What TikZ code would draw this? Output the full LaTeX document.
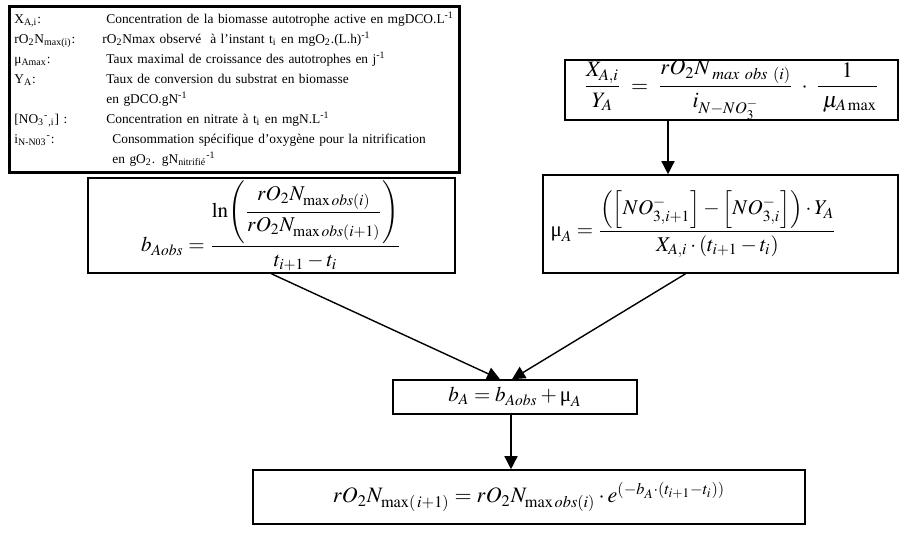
\documentclass[tikz,border=0pt]{standalone}
\usepackage{amsmath}
\usepackage{mathptmx}
\usepackage{fontspec}
\setmainfont{Liberation Serif}
\usetikzlibrary{arrows.meta,positioning}
\begin{document}
\begin{tikzpicture}[x=0.5pt,y=-0.5pt,
  box/.style={draw,line width=0.8pt,inner sep=0pt,font=\fontsize{10.5}{12}\selectfont},
  flow/.style={draw,line width=0.7pt,-{Triangle[length=6.5pt,width=6.5pt]}}]
\useasboundingbox (0,0) rectangle (904,537);
\node[draw,line width=1.4pt,anchor=north west,inner xsep=2.5pt,inner ysep=1.5pt,
  text width=220pt,font=\fontsize{6.7}{10}\selectfont] (legend) at (8,5) {%
  \begin{tabular}{@{}p{46pt}@{}l@{}}
  X\textsubscript{A,i}: & Concentration de la biomasse autotrophe active en mgDCO.L\textsuperscript{-1}\\
  rO\textsubscript{2}N\textsubscript{max(i)}: & \hspace{-2pt}rO\textsubscript{2}Nmax observé\ \ à l’instant t\textsubscript{i} en mgO\textsubscript{2}.(L.h)\textsuperscript{-1}\\
  μ\textsubscript{Amax}: & Taux maximal de croissance des autotrophes en j\textsuperscript{-1}\\
  Y\textsubscript{A}: & Taux de conversion du substrat en biomasse\\
  & en gDCO.gN\textsuperscript{-1}\\
  {[}NO\textsubscript{3}\textsuperscript{-}\textsubscript{,i}] : & Concentration en nitrate à t\textsubscript{i} en mgN.L\textsuperscript{-1}\\
  i\textsubscript{N-N03}\textsuperscript{-}: & \hspace{3pt}Consommation spécifique d’oxygène pour la nitrification\\
  & \hspace{3pt}en gO\textsubscript{2}. gN\textsubscript{nitrifié}\textsuperscript{-1}
  \end{tabular}};
\node[box,font=\fontsize{11}{13}\selectfont,minimum width=166.5pt,minimum height=28pt] (ratio) at (731.5,90)
  {$\dfrac{X_{A,i}}{Y_A}\;=\;\dfrac{rO_2N_{\;\mathit{max\ obs\ (i)}}}{i_{N-NO_3^-}}\;\cdot\;\dfrac{1}{\;\mu_{A\max}}$};
\node[box,minimum width=183.5pt,minimum height=47.5pt] (bobs) at (271.5,225.5)
  {$b_{Aobs}=\dfrac{\ln\!\left(\dfrac{rO_2N_{\max obs(i)}}{rO_2N_{\max obs(i+1)}}\right)}{t_{i+1}-t_i}$};
\node[box,minimum width=177.5pt,minimum height=49pt,text width=170pt,inner xsep=3.75pt] (muA) at (720.5,224)
  {$\mbox{μ}_A=\dfrac{\Bigl(\Bigl[NO^-_{3,i+1}\Bigr]-\Bigl[NO^-_{3,i}\Bigr]\Bigr)\cdot Y_A}{X_{A,i}\cdot(t_{i+1}-t_i)}$};
\node[box,minimum width=122pt,minimum height=17pt] (bA) at (515,397)
  {$b_A=b_{Aobs}+\mbox{μ}_A$};
\node[box,font=\fontsize{11}{13}\selectfont,minimum width=276pt,minimum height=27pt] (rnext) at (529,497)
  {$rO_2N_{\max(\,i+1)}=rO_2N_{\max obs(i)}\cdot e^{(-b_A\cdot(t_{i+1}-t_i))}$};
\draw[flow] ([xshift=-31.75pt]ratio.south) -- ([xshift=-31.75pt]ratio.south |- muA.north);
\draw[flow] (bobs.south) -- ([xshift=-7.5pt]bA.north);
\draw[flow] ([xshift=-17.5pt]muA.south) -- ([xshift=-1.5pt]bA.north);
\draw[flow] ([xshift=-2pt]bA.south) -- ([xshift=-2pt]bA.south |- rnext.north);
\end{tikzpicture}
\end{document}
